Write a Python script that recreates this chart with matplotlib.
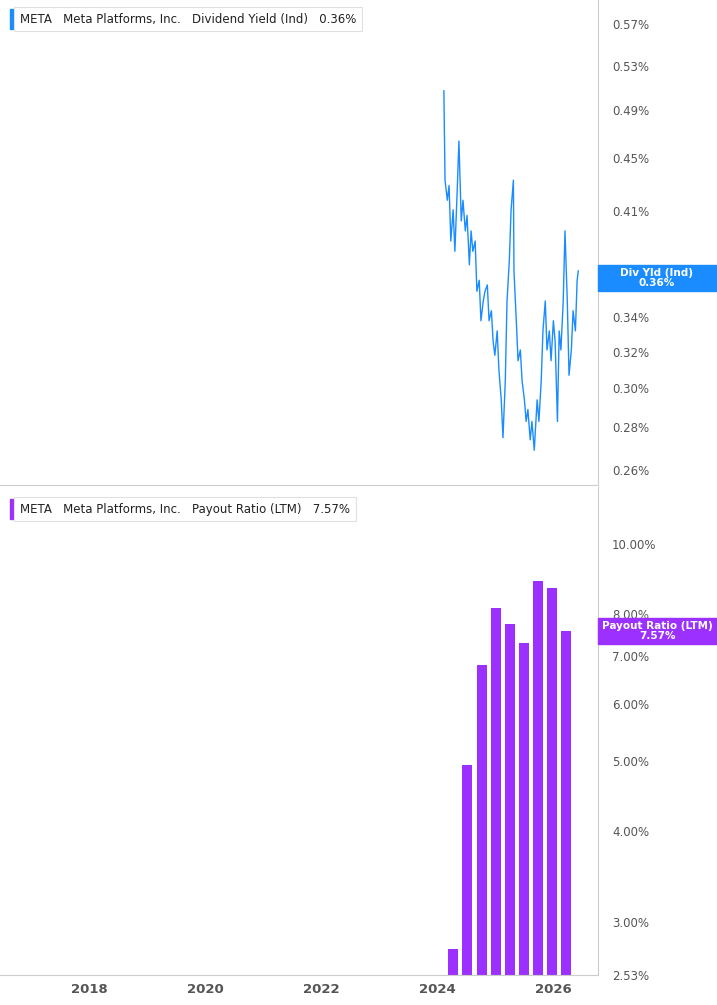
import matplotlib.pyplot as plt
from matplotlib.ticker import FixedLocator, NullLocator

# dividend yield (%), fractional years
yld_t = [2024.11, 2024.13, 2024.17, 2024.20, 2024.23, 2024.27, 2024.30, 2024.34, 2024.37, 2024.41,
         2024.44, 2024.48, 2024.51, 2024.55, 2024.58, 2024.61, 2024.65, 2024.68, 2024.72, 2024.75,
         2024.79, 2024.82, 2024.86, 2024.89, 2024.93, 2024.96, 2024.99, 2025.03, 2025.06, 2025.10,
         2025.13, 2025.17, 2025.20, 2025.24, 2025.27, 2025.31, 2025.32, 2025.36, 2025.39, 2025.43,
         2025.46, 2025.50, 2025.53, 2025.56, 2025.60, 2025.63, 2025.67, 2025.69, 2025.72, 2025.75,
         2025.79, 2025.82, 2025.86, 2025.89, 2025.93, 2025.96, 2026.00, 2026.03, 2026.07, 2026.10,
         2026.13, 2026.17, 2026.20, 2026.24, 2026.27, 2026.31, 2026.34, 2026.38, 2026.41, 2026.43]
yld_v = [0.507, 0.433, 0.418, 0.429, 0.389, 0.411, 0.382, 0.425, 0.464, 0.403,
         0.418, 0.396, 0.407, 0.373, 0.396, 0.382, 0.389, 0.356, 0.363, 0.338,
         0.350, 0.356, 0.360, 0.338, 0.344, 0.326, 0.318, 0.332, 0.310, 0.294,
         0.275, 0.304, 0.350, 0.376, 0.411, 0.433, 0.369, 0.338, 0.315, 0.321,
         0.304, 0.294, 0.283, 0.289, 0.274, 0.283, 0.269, 0.279, 0.294, 0.283,
         0.304, 0.332, 0.350, 0.321, 0.332, 0.315, 0.338, 0.326, 0.283, 0.332,
         0.321, 0.350, 0.396, 0.350, 0.307, 0.321, 0.344, 0.332, 0.363, 0.369]

# payout ratio (LTM, %) quarterly bars
pay_t = [2024.27, 2024.51, 2024.77, 2025.01, 2025.25, 2025.50, 2025.74, 2025.98, 2026.22]
pay_v = [2.75, 4.95, 6.8, 8.15, 7.75, 7.3, 8.9, 8.7, 7.57]

# 0.37% tick sits under the right-hand tag, so it is left out
yld_ticks = [0.26, 0.28, 0.30, 0.32, 0.34, 0.41, 0.45, 0.49, 0.53, 0.57]
pay_ticks = [2.53, 3.0, 4.0, 5.0, 6.0, 7.0, 8.0, 10.0]
years = [2018, 2020, 2022, 2024, 2026]

blue = '#1a8cff'
purple = '#9b30ff'
grey = '#555555'
W, H = 717, 1005
fig = plt.figure(figsize=(W / 100, H / 100), dpi=100)
ax1 = fig.add_axes([0, 1 - 485 / H, 598 / W, 485 / H])
ax2 = fig.add_axes([0, 1 - 975 / H, 598 / W, 488 / H])

xl = (2016.45, 2026.77)
for ax in (ax1, ax2):
    ax.set_xlim(*xl)
    ax.set_yscale('log')
    ax.yaxis.tick_right()
    for s in ('left', 'top'):
        ax.spines[s].set_visible(False)
    ax.spines['right'].set_color('#cccccc')
    ax.spines['bottom'].set_color('#cccccc')
    ax.yaxis.set_minor_locator(NullLocator())
    ax.tick_params(axis='y', length=0, pad=10, labelsize=8.5, labelcolor=grey)

ax1.plot(yld_t, yld_v, color=blue, lw=1)
ax1.set_ylim(0.253, 0.595)
ax1.yaxis.set_major_locator(FixedLocator(yld_ticks))
ax1.set_yticklabels([f'{v:.2f}%' for v in yld_ticks])
ax1.set_xticks([])

ax2.bar(pay_t, pay_v, width=0.17, color=purple)
ax2.set_ylim(2.53, 12.0)
ax2.yaxis.set_major_locator(FixedLocator(pay_ticks))
ax2.set_yticklabels([f'{v:.2f}%' for v in pay_ticks])
ax2.set_xticks(years)
ax2.set_xticklabels([str(y) for y in years], fontsize=9.5, color=grey, fontweight='bold')
ax2.tick_params(axis='x', length=0, pad=6)

# legends
def legend(y, color, name, val):
    fig.text(20 / W, 1 - y / H, 'META   Meta Platforms, Inc.   ' + name + '   ' + val,
             fontsize=8.5, va='center', ha='left', color='#222222',
             bbox=dict(boxstyle='square,pad=0.5', fc='white', ec='#e0e0e0', lw=0.8))
    fig.patches.append(plt.Rectangle((10 / W, 1 - (y + 10) / H), 3 / W, 20 / H,
                                     transform=fig.transFigure, color=color))

legend(19, blue, 'Dividend Yield (Ind)', '0.36%')
legend(509, purple, 'Payout Ratio (LTM)', '7.57%')

def tag(y, color, text):
    fig.patches.append(plt.Rectangle((598 / W, 1 - (y + 13) / H), 119 / W, 26 / H,
                                     transform=fig.transFigure, color=color))
    fig.text(657 / W, 1 - y / H, text, fontsize=7.5, color='white', ha='center', va='center',
             fontweight='bold', linespacing=1.0)

tag(278, blue, 'Div Yld (Ind)\n0.36%')
tag(631, purple, 'Payout Ratio (LTM)\n7.57%')

fig.savefig('out.png', dpi=100)
